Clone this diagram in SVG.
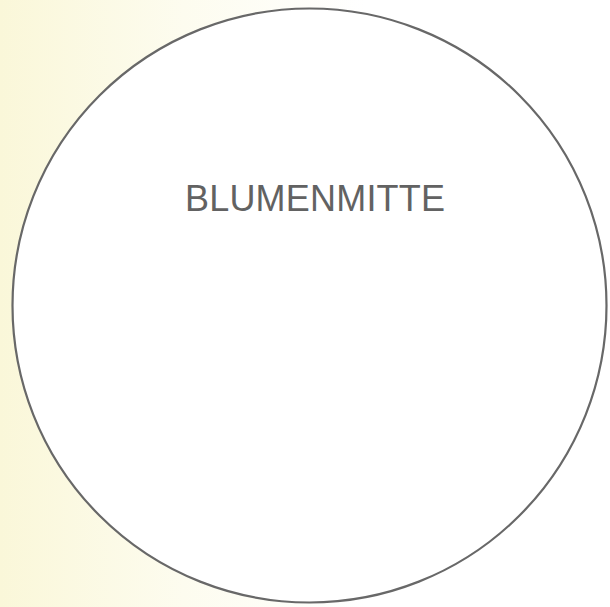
<svg xmlns="http://www.w3.org/2000/svg" width="610" height="607" viewBox="0 0 610 607">
  <defs>
    <linearGradient id="paper" x1="0" y1="0" x2="1" y2="0">
      <stop offset="0" stop-color="#faf7d9"/>
      <stop offset="0.3" stop-color="#fdfcef"/>
      <stop offset="0.6" stop-color="#ffffff"/>
      <stop offset="1" stop-color="#ffffff"/>
    </linearGradient>
    <style>
      .outline { fill: #ffffff; stroke: #686868; stroke-width: 2.2; }
      .label { font-family: "Liberation Sans", Arial, sans-serif; font-size: 36px; fill: #626262; }
    </style>
  </defs>
  <rect x="0" y="0" width="610" height="607" fill="url(#paper)"/>
  <g id="blumenmitte">
    <circle class="outline" cx="309.5" cy="305.5" r="297"/>
    <text class="label" x="185" y="211" textLength="260" lengthAdjust="spacing">BLUMENMITTE</text>
  </g>
  <g id="connectors"/>
</svg>
